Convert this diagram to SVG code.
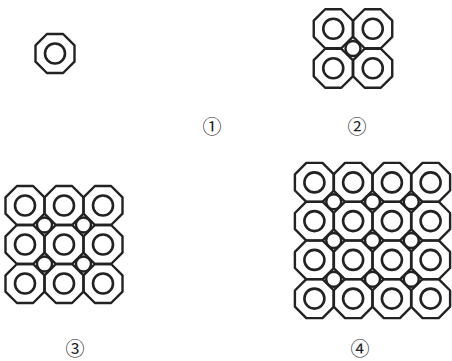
<svg xmlns="http://www.w3.org/2000/svg" xmlns:xlink="http://www.w3.org/1999/xlink" width="452" height="361" viewBox="0 0 452 361">
<style>
.oct{fill:none;stroke:#222;stroke-width:2.4;stroke-linejoin:round}
.ring{fill:none;stroke:#222;stroke-width:2.6}
.dot{fill:none;stroke:#222;stroke-width:2.4}
.lbl{font-family:"Noto Sans CJK JP","DejaVu Sans",sans-serif;font-size:19px;fill:#222;text-anchor:middle;dominant-baseline:central}
</style>
<defs>
<g id="cell">
<polygon class="oct" points="-8.08,-19.5 8.08,-19.5 19.5,-8.08 19.5,8.08 8.08,19.5 -8.08,19.5 -19.5,8.08 -19.5,-8.08"/>
<circle class="ring" cx="0" cy="0" r="10"/>
</g>
<circle id="sc" class="dot" cx="0" cy="0" r="7.5"/>
</defs>
<rect width="452" height="361" fill="#fff"/>
<g id="pattern1">
<use xlink:href="#cell" x="55" y="53.5"/>
</g>
<g id="pattern2">
<use xlink:href="#cell" x="333.25" y="28.75"/>
<use xlink:href="#cell" x="372.75" y="28.75"/>
<use xlink:href="#cell" x="333.25" y="68.25"/>
<use xlink:href="#cell" x="372.75" y="68.25"/>
<use xlink:href="#sc" x="353" y="48.5"/>
</g>
<g id="pattern3">
<use xlink:href="#cell" x="25" y="205.5"/><use xlink:href="#cell" x="64" y="205.5"/><use xlink:href="#cell" x="103" y="205.5"/>
<use xlink:href="#cell" x="25" y="244.5"/><use xlink:href="#cell" x="64" y="244.5"/><use xlink:href="#cell" x="103" y="244.5"/>
<use xlink:href="#cell" x="25" y="283.5"/><use xlink:href="#cell" x="64" y="283.5"/><use xlink:href="#cell" x="103" y="283.5"/>
<use xlink:href="#sc" x="44.5" y="225"/><use xlink:href="#sc" x="83.5" y="225"/>
<use xlink:href="#sc" x="44.5" y="264"/><use xlink:href="#sc" x="83.5" y="264"/>
</g>
<g id="pattern4">
<use xlink:href="#cell" x="314.4" y="182.4"/><use xlink:href="#cell" x="353.1" y="182.4"/><use xlink:href="#cell" x="391.9" y="182.4"/><use xlink:href="#cell" x="430.6" y="182.4"/>
<use xlink:href="#cell" x="314.4" y="221.1"/><use xlink:href="#cell" x="353.1" y="221.1"/><use xlink:href="#cell" x="391.9" y="221.1"/><use xlink:href="#cell" x="430.6" y="221.1"/>
<use xlink:href="#cell" x="314.4" y="259.9"/><use xlink:href="#cell" x="353.1" y="259.9"/><use xlink:href="#cell" x="391.9" y="259.9"/><use xlink:href="#cell" x="430.6" y="259.9"/>
<use xlink:href="#cell" x="314.4" y="298.6"/><use xlink:href="#cell" x="353.1" y="298.6"/><use xlink:href="#cell" x="391.9" y="298.6"/><use xlink:href="#cell" x="430.6" y="298.6"/>
<use xlink:href="#sc" x="333.75" y="201.75"/><use xlink:href="#sc" x="372.5" y="201.75"/><use xlink:href="#sc" x="411.25" y="201.75"/>
<use xlink:href="#sc" x="333.75" y="240.5"/><use xlink:href="#sc" x="372.5" y="240.5"/><use xlink:href="#sc" x="411.25" y="240.5"/>
<use xlink:href="#sc" x="333.75" y="279.25"/><use xlink:href="#sc" x="372.5" y="279.25"/><use xlink:href="#sc" x="411.25" y="279.25"/>
</g>
<g id="labels">
<text class="lbl" x="212" y="125">①</text>
<text class="lbl" x="357" y="125">②</text>
<text class="lbl" x="75" y="347">③</text>
<text class="lbl" x="360" y="347">④</text>
</g>
</svg>
